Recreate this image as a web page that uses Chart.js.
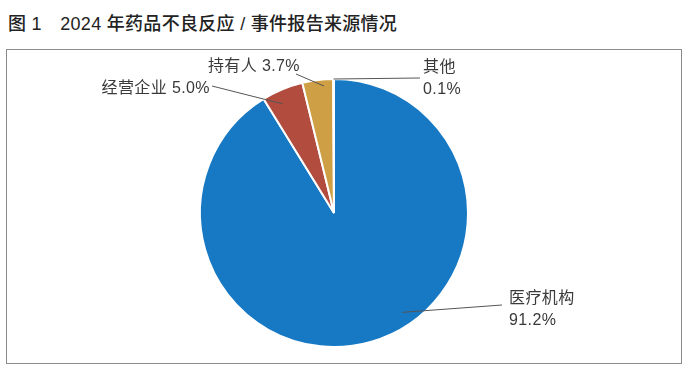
<!DOCTYPE html>
<html>
<head>
<meta charset="utf-8">
<script src="https://cdn.jsdelivr.net/npm/chart.js@4"></script>
<style>
  html, body { margin: 0; padding: 0; background: #fff; }
  body { width: 700px; height: 371px; position: relative; overflow: hidden; }
  #title {
    position: absolute; left: 8px; top: 9px;
    font-family: "Liberation Sans", "Noto Sans CJK SC", sans-serif;
    font-size: 18px; font-weight: 500; color: #222; white-space: pre;
    letter-spacing: 0.3px;
  }
  #frame {
    position: absolute; left: 6px; top: 49px; width: 674px; height: 313px;
    border: 1.5px solid #8c8c8c;
  }
  #chart { position: absolute; left: 0; top: 0; }
</style>
</head>
<body>
<div id="title">图 1　2024 年药品不良反应 / 事件报告来源情况</div>
<div id="frame"></div>
<canvas id="chart" width="700" height="371"></canvas>
<script>
// Data
const categories = ["医疗机构", "经营企业", "持有人", "其他"];
const shares = [91.2, 5.0, 3.7, 0.1];
const sliceColors = ["#1779c4", "#b14c3f", "#cf9f45", "#cf9f45"];

// Label placement: where the leader leaves the slice (fraction along arc, fraction of radius),
// where it ends, and where the text sits
const labelLayout = [
  { t: 0.443, r: 0.9, end: [502, 305], text: [509, 299], align: "left", split: true },
  { t: 0.36, r: 0.9, end: [212, 86], text: [210, 89], align: "right", split: false },
  { t: 0.69, r: 0.95, end: [296, 74], text: [300, 67], align: "right", split: false },
  { t: 0.5, r: 1.0, end: [420, 78], text: [423, 68], align: "left", split: true },
];

const leaderLabels = {
  id: "leaderLabels",
  afterDatasetsDraw(chart) {
    const ctx = chart.ctx;
    const arcs = chart.getDatasetMeta(0).data;
    ctx.save();
    ctx.font = "16px 'Liberation Sans', 'Noto Sans CJK SC', sans-serif";
    ctx.letterSpacing = "0.4px";
    ctx.fillStyle = "#3a3a3a";
    ctx.strokeStyle = "#555";
    ctx.lineWidth = 1;
    arcs.forEach((arc, i) => {
      const lay = labelLayout[i];
      const { x, y, startAngle, endAngle, outerRadius } = arc.getProps(
        ["x", "y", "startAngle", "endAngle", "outerRadius"], true);
      const a = startAngle + lay.t * (endAngle - startAngle);
      const sx = x + Math.cos(a) * outerRadius * lay.r;
      const sy = y + Math.sin(a) * outerRadius * lay.r;
      ctx.beginPath();
      ctx.moveTo(sx, sy);
      ctx.lineTo(lay.end[0], lay.end[1]);
      ctx.stroke();

      const pct = shares[i].toFixed(1) + "%";
      ctx.textAlign = lay.align;
      ctx.textBaseline = "middle";
      if (lay.split) {
        ctx.fillText(categories[i], lay.text[0], lay.text[1]);
        ctx.fillText(pct, lay.text[0], lay.text[1] + 22);
      } else {
        ctx.fillText(categories[i] + " " + pct, lay.text[0], lay.text[1]);
      }
    });
    ctx.restore();
  },
};

new Chart(document.getElementById("chart"), {
  type: "pie",
  data: {
    labels: categories,
    datasets: [{
      data: shares,
      backgroundColor: sliceColors,
      borderColor: "#fff",
      borderWidth: 2,
    }],
  },
  options: {
    responsive: false,
    animation: false,
    devicePixelRatio: 1,
    layout: { padding: { left: 199, right: 231, top: 78, bottom: 23 } },
    plugins: { legend: { display: false }, tooltip: { enabled: false } },
  },
  plugins: [leaderLabels],
});
</script>
</body>
</html>
